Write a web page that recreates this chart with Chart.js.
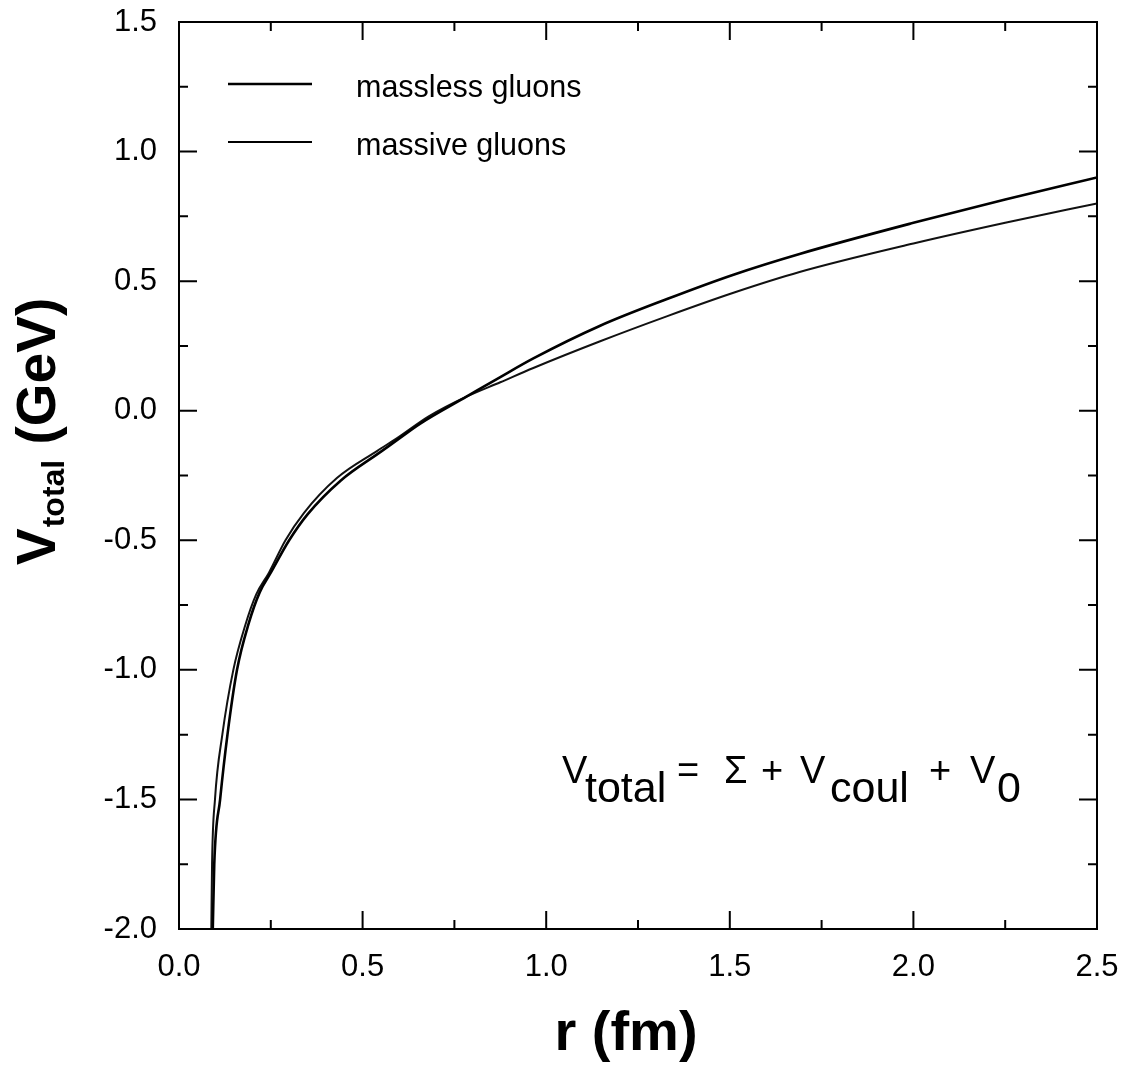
<!DOCTYPE html>
<html>
<head>
<meta charset="utf-8">
<script src="https://cdn.jsdelivr.net/npm/chart.js@4.4.1/dist/chart.umd.min.js"></script>
<style>
  html, body { margin: 0; padding: 0; background: #fff; }
  #wrap { width: 1126px; height: 1065px; position: relative; }
</style>
</head>
<body>
<div id="wrap"><canvas id="c" width="1126" height="1065"></canvas></div>
<script>
// ---- data ----
const seriesNames = ["massless gluons", "massive gluons"];
const rMassless = [0.092, 0.096, 0.112, 0.132, 0.158, 0.19, 0.22, 0.25, 0.30, 0.35, 0.44, 0.55, 0.602, 0.657, 0.784, 0.875, 0.965, 1.147, 1.329, 1.51, 1.69, 2.0, 2.25, 2.5];
const vMassless = [-2.0, -1.75, -1.5, -1.25, -1.0, -0.82, -0.70, -0.625, -0.50, -0.40, -0.27, -0.158, -0.105, -0.05, 0.055, 0.130, 0.202, 0.328, 0.431, 0.525, 0.605, 0.725, 0.815, 0.90];
const rMassive = [0.088, 0.090, 0.098, 0.118, 0.148, 0.18, 0.21, 0.245, 0.29, 0.34, 0.43, 0.54, 0.60, 0.68, 0.784, 0.875, 0.965, 1.147, 1.33, 1.51, 1.69, 2.0, 2.25, 2.5];
const vMassive = [-2.0, -1.75, -1.5, -1.25, -1.0, -0.83, -0.71, -0.625, -0.50, -0.395, -0.26, -0.155, -0.10, -0.022, 0.055, 0.110, 0.165, 0.268, 0.365, 0.455, 0.535, 0.645, 0.725, 0.80];
const xTicks = [0.0, 0.5, 1.0, 1.5, 2.0, 2.5];
const yTicks = [-2.0, -1.5, -1.0, -0.5, 0.0, 0.5, 1.0, 1.5];
const xTitle = "r (fm)";
const yTitleMain = "V";
const yTitleSub = "total";
const yTitleRest = " (GeV)";
const formulaTokens = [
  ["V", "main", 562], ["total", "sub", 585], ["=", "main", 677], ["\u03A3", "main", 724],
  ["+", "main", 761], ["V", "main", 800], ["coul", "sub", 830], ["+", "main", 929],
  ["V", "main", 970], ["0", "sub", 997]
];

const FONT = '"Liberation Sans", Arial, Helvetica, sans-serif';
const toPts = (xs, ys) => xs.map((x, i) => ({ x: x, y: ys[i] }));

const decor = {
  id: 'decor',
  afterDraw(chart) {
    const ctx = chart.ctx;
    const a = chart.chartArea;
    const xs = chart.scales.x, ys = chart.scales.y;
    ctx.save();
    ctx.strokeStyle = '#000';
    ctx.fillStyle = '#000';
    ctx.lineWidth = 2;
    ctx.strokeRect(a.left, a.top, a.right - a.left, a.bottom - a.top);
    // inward ticks on all four sides (major + minor halfway)
    const xAll = [];
    xTicks.forEach((t, i) => { xAll.push([t, true]); if (i < xTicks.length - 1) xAll.push([(t + xTicks[i + 1]) / 2, false]); });
    const yAll = [];
    yTicks.forEach((t, i) => { yAll.push([t, true]); if (i < yTicks.length - 1) yAll.push([(t + yTicks[i + 1]) / 2, false]); });
    ctx.beginPath();
    xAll.forEach(([v, maj]) => {
      const p = xs.getPixelForValue(v), L = maj ? 18 : 9;
      ctx.moveTo(p, a.bottom); ctx.lineTo(p, a.bottom - L);
      ctx.moveTo(p, a.top); ctx.lineTo(p, a.top + L);
    });
    yAll.forEach(([v, maj]) => {
      const p = ys.getPixelForValue(v), L = maj ? 18 : 9;
      ctx.moveTo(a.left, p); ctx.lineTo(a.left + L, p);
      ctx.moveTo(a.right, p); ctx.lineTo(a.right - L, p);
    });
    ctx.stroke();

    // legend
    const legY = [84, 142];
    chart.data.datasets.forEach((ds, i) => {
      ctx.lineWidth = ds.borderWidth;
      ctx.beginPath();
      ctx.moveTo(228, legY[i]); ctx.lineTo(312, legY[i]);
      ctx.stroke();
      ctx.font = '30.5px ' + FONT;
      ctx.textAlign = 'left';
      ctx.textBaseline = 'middle';
      ctx.fillText(ds.label, 356, legY[i] + 5);
    });

    // formula
    ctx.textBaseline = 'alphabetic';
    formulaTokens.forEach(([txt, kind, x]) => {
      if (kind === 'main') { ctx.font = '38px ' + FONT; ctx.fillText(txt, x, 783); }
      else { ctx.font = '43px ' + FONT; ctx.fillText(txt, x, 802); }
    });

    // x title
    ctx.font = 'bold 56px ' + FONT;
    ctx.textAlign = 'center';
    ctx.textBaseline = 'alphabetic';
    ctx.fillText(xTitle, 626, 1050);

    // y title (rotated)
    ctx.save();
    ctx.translate(55, 565);
    ctx.rotate(-Math.PI / 2);
    ctx.textAlign = 'left';
    ctx.font = 'bold 55px ' + FONT;
    ctx.fillText(yTitleMain, 0, 0);
    let w = ctx.measureText(yTitleMain).width;
    ctx.font = 'bold 32px ' + FONT;
    ctx.fillText(yTitleSub, w + 1, 9);
    w += 1 + ctx.measureText(yTitleSub).width;
    ctx.font = 'bold 55px ' + FONT;
    ctx.fillText(yTitleRest, w, 0);
    ctx.restore();

    ctx.restore();
  }
};

new Chart(document.getElementById('c'), {
  type: 'scatter',
  data: {
    datasets: [
      { label: seriesNames[0], data: toPts(rMassless, vMassless), showLine: true, borderColor: '#000', backgroundColor: '#000', borderWidth: 2.6, pointRadius: 0, cubicInterpolationMode: 'monotone' },
      { label: seriesNames[1], data: toPts(rMassive, vMassive), showLine: true, borderColor: '#111', backgroundColor: '#111', borderWidth: 2.0, pointRadius: 0, cubicInterpolationMode: 'monotone' }
    ]
  },
  options: {
    responsive: false,
    animation: false,
    devicePixelRatio: 1,
    layout: { padding: { left: 0, right: 29, top: 22, bottom: 0 } },
    plugins: { legend: { display: false }, tooltip: { enabled: false } },
    scales: {
      x: {
        type: 'linear', min: 0, max: 2.5,
        grid: { display: false, drawTicks: false },
        border: { display: false },
        afterBuildTicks: (s) => { s.ticks = xTicks.map(v => ({ value: v })); },
        afterFit: (s) => { s.height = 136; s.paddingLeft = 0; s.paddingRight = 0; },
        ticks: { color: '#000', padding: 20, font: { family: FONT, size: 31 }, maxRotation: 0, callback: (v) => Number(v).toFixed(1) }
      },
      y: {
        type: 'linear', min: -2, max: 1.5,
        grid: { display: false, drawTicks: false },
        border: { display: false },
        afterBuildTicks: (s) => { s.ticks = yTicks.map(v => ({ value: v })); },
        afterFit: (s) => { s.width = 179; s.paddingTop = 0; s.paddingBottom = 0; },
        ticks: { color: '#000', padding: 22, font: { family: FONT, size: 31 }, callback: (v) => Number(v).toFixed(1) }
      }
    }
  },
  plugins: [decor]
});
</script>
</body>
</html>
